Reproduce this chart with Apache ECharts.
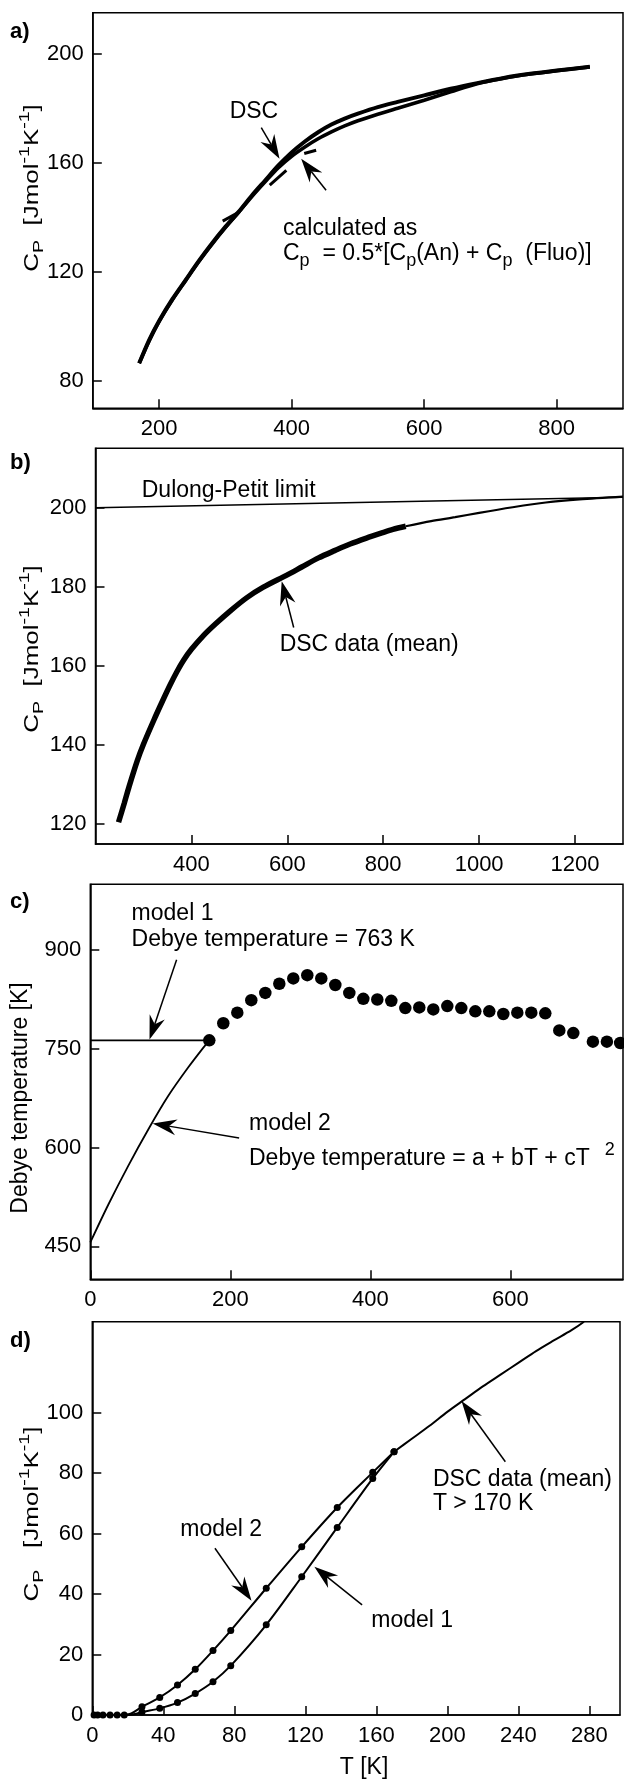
<!DOCTYPE html>
<html><head><meta charset="utf-8">
<script src="https://cdn.jsdelivr.net/npm/echarts@6/dist/echarts.min.js"></script>
<style>html,body{margin:0;padding:0;background:#fff}#c{width:624px;height:1781px}</style>
</head><body><div id="c"></div>
<script>
// ---------------- DATA ----------------
// panel a) Cp [J/mol/K] vs T [K]
const aDscT   = [170,185,200,220,240,260,280,300,320,340,360,380,400,420,440,460,480,500,530,560,600,640,680,720,760,800,850];
const aDscCp  = [86.5,95,102,110,117,124,130.5,136.5,142,148,153.5,159,163.8,167.8,171.2,174,176.2,178,180.4,182.3,184.7,187.1,189.2,191.1,192.6,193.8,195.2];
const aCalcT  = [170,185,200,220,240,260,280,300,320,340,360,380,400,420,440,460,480,500,530,560,600,640,680,720,760,800,850];
const aCalcCp = [86.5,94.7,101.8,109.7,116.8,123.8,130.2,136.2,141.8,147.6,153,158.2,162.4,165.8,168.8,171.3,173.5,175.4,177.8,180,182.9,186,189,191,192.5,193.7,195.1];
const aSeg1T = [296,318], aSeg1Cp = [138.6,141.6];
const aSeg2T = [367,392], aSeg2Cp = [151.8,157.2];
const aSeg3T = [419,437], aSeg3Cp = [163.4,164.6];
const aXTicks = [200,400,600,800];
const aYTicks = [80,120,160,200];

// panel b)
const bDscT  = [248,260,270,287,300,322,340,356,370,384,400,426,450,480,515,550,598,630,665,700,731,765,797,820,847];
const bDscCp = [120.5,125.3,129.5,136,140.2,146.4,151.2,155.3,158.6,161.5,164.2,167.8,170.6,173.8,177.2,179.9,182.9,185,187.3,189.2,190.8,192.3,193.6,194.5,195.3];
const bFitT  = [847,900,950,1000,1070,1139,1209,1300];
const bFitCp = [195.3,196.6,197.6,198.7,200.1,201.3,202.1,202.8];
const bDpT   = [200,800,1300];
const bDpCp  = [200.0,201.4,202.6];
const bXTicks = [400,600,800,1000,1200];
const bYTicks = [120,140,160,180,200];

// panel c) Debye temperature [K]
const cDotsT = [170,190,210,230,250,270,290,310,330,350,370,390,410,430,450,470,490,510,530,550,570,590,610,630,650,670,690,718,738,757];
const cDotsD = [763,789,805,824,835,849,857,862,857,847,835,826,825,823,812,813,810,815,812,807,807,803,805,805,804,778,774,761,761,759];
const cModel1T = [0,170], cModel1D = [763,763];
const cModel2T = [0,26,54,83,111,140,166,170];
const cModel2D = [456,514,572,628,678,722,758,763];
const cXTicks = [0,200,400,600];
const cYTicks = [450,600,750,900];

// panel d) low temperature Cp
const dDscT  = [170,180,190,200,210,220,230,240,250,260,270,277];
const dDscCp = [87,91.3,95.6,100.2,104.4,108.6,112.5,116.4,120.3,123.8,127.2,130];
const dModel2T  = [18,22,28,38,48,58,68,78,98,118,138,158,170];
const dModel2Cp = [0,0.5,2.7,5.8,9.9,15.1,21.3,27.9,41.9,55.6,68.6,80.2,87];
const dModel1T  = [20,24,28,38,48,58,68,78,98,118,138,158,170];
const dModel1Cp = [0,0.3,1.0,2.2,4.1,7.1,11,16.3,29.8,45.7,62,78.2,87];
const dLowT  = [1,3,6,10,14,18];
const dLowCp = [0,0,0,0,0,0];
const dXTicks = [0,40,80,120,160,200,240,280];
const dYTicks = [0,20,40,60,80,100];

// ---------------- CHART ----------------
const FONT = '"Liberation Sans", Arial, Helvetica, sans-serif';
const zip = (xs, ys) => xs.map((x, i) => [x, ys[i]]);
const chart = echarts.init(document.getElementById('c'), null, {renderer: 'canvas'});

const grids = [
  {left: 92.8, top: 12.7,   width: 530.2, height: 395.6},
  {left: 95.5, top: 448.3,  width: 527.5, height: 395.7},
  {left: 90.3, top: 884.3,  width: 532.7, height: 395},
  {left: 92.3, top: 1321.7, width: 527.7, height: 393.3}
].map(g => Object.assign({show: true, borderColor: '#000', borderWidth: 1.5, backgroundColor: 'transparent', containLabel: false}, g));

function axisBase(i, min, max, ticks, margin) {
  return {type: 'value', gridIndex: i, min, max,
    axisLine: {show: true, onZero: false, lineStyle: {color: '#000', width: 1.5}},
    axisTick: {show: true, inside: true, length: 9, customValues: ticks, lineStyle: {color: '#000', width: 1.5}},
    axisLabel: {show: true, color: '#000', fontSize: 22, fontFamily: FONT, margin, customValues: ticks,
      formatter: v => String(v)},
    splitLine: {show: false}};
}
const xAx = (i, min, max, ticks) => axisBase(i, min, max, ticks, 10);
const yAx = (i, min, max, ticks) => axisBase(i, min, max, ticks, 9);

function line(i, data, width, extra) {
  return Object.assign({type: 'line', xAxisIndex: i, yAxisIndex: i, data, showSymbol: false, symbol: 'none',
    lineStyle: {color: '#000', width, opacity: 1}, itemStyle: {color: '#000', opacity: 1}, smooth: 0.3, animation: false, z: 3}, extra || {});
}
function dots(i, data, size) {
  return {type: 'scatter', xAxisIndex: i, yAxisIndex: i, data, symbol: 'circle', symbolSize: size,
    itemStyle: {color: '#000', opacity: 1}, emphasis: {disabled: true}, animation: false, z: 4, clip: false};
}

const option = {
  animation: false,
  backgroundColor: '#fff',
  grid: grids,
  xAxis: [xAx(0, 100, 900, aXTicks), xAx(1, 200, 1300, bXTicks), xAx(2, 0, 761, cXTicks), xAx(3, 0, 297.3, dXTicks)],
  yAxis: [yAx(0, 70, 215, aYTicks), yAx(1, 115, 215, bYTicks), yAx(2, 400, 1000, cYTicks), yAx(3, 0, 130, dYTicks)],
  series: [
    line(0, zip(aDscT, aDscCp), 4),
    line(0, zip(aCalcT, aCalcCp), 3.6),
    line(0, zip(aSeg1T, aSeg1Cp), 3, {smooth: false}),
    line(0, zip(aSeg2T, aSeg2Cp), 3, {smooth: false}),
    line(0, zip(aSeg3T, aSeg3Cp), 3, {smooth: false}),

    line(1, zip(bDpT, bDpCp), 1.5, {smooth: false}),
    line(1, zip(bFitT, bFitCp), 2.2),
    line(1, zip(bDscT, bDscCp), 5.5),

    line(2, zip(cModel1T, cModel1D), 1.6, {smooth: false}),
    line(2, zip(cModel2T, cModel2D), 1.8),
    dots(2, zip(cDotsT, cDotsD), 12.5),

    line(3, zip(dDscT, dDscCp), 2),
    line(3, zip(dModel2T, dModel2Cp), 2, {showSymbol: true, symbolSize: 7,
      symbol: v => (v[0] >= 28 ? 'circle' : 'none')}),
    line(3, zip(dModel1T, dModel1Cp), 2, {showSymbol: true, symbolSize: 7,
      symbol: v => (v[0] >= 28 ? 'circle' : 'none')}),
    dots(3, zip(dLowT, dLowCp), 7)
  ]
};
chart.setOption(option);

// ---------------- ANNOTATIONS ----------------
const mctx = document.createElement('canvas').getContext('2d');
function measure(t, fs, bold) { mctx.font = (bold ? 'bold ' : '') + fs + 'px ' + FONT; return mctx.measureText(t).width; }
function run(px, py, pieces, o) {
  o = o || {};
  const fs = o.fs || 23, small = Math.round(fs * (o.smallRatio || 0.75));
  let x = 0; const kids = [];
  for (const p of pieces) {
    const t = p[0], kind = p[1];
    const f = kind ? small : fs;
    const dy = kind === 'sub' ? fs * 0.32 : kind === 'sup' ? -fs * 0.38 : 0;
    kids.push({type: 'text', x, y: dy, z: 100,
      style: {text: t, font: (o.bold ? 'bold ' : '') + f + 'px ' + FONT, fill: '#000',
        align: 'left', verticalAlign: 'middle', textAlign: 'left', textVerticalAlign: 'middle'}});
    x += measure(t, f, o.bold);
  }
  if (o.center) kids.forEach(k => { k.x -= x / 2; });
  return {type: 'group', x: px, y: py, rotation: o.rot || 0, scaleX: o.sx || 1, z: 100, children: kids};
}
function arrow(tail, head) {
  const dx = head[0] - tail[0], dy = head[1] - tail[1], L = Math.hypot(dx, dy);
  const ux = dx / L, uy = dy / L, nx = -uy, ny = ux;
  const len = 24, w = 16;
  const bx = head[0] - ux * len, by = head[1] - uy * len;
  const notch = [head[0] - ux * len * 0.68, head[1] - uy * len * 0.68];
  return [
    {type: 'line', z: 100, shape: {x1: tail[0], y1: tail[1], x2: notch[0], y2: notch[1]}, style: {stroke: '#000', lineWidth: 1.5}},
    {type: 'polygon', z: 100, shape: {points: [head, [bx + nx * w / 2, by + ny * w / 2], notch, [bx - nx * w / 2, by - ny * w / 2]]}, style: {fill: '#000'}}
  ];
}
const px = (g, v) => chart.convertToPixel({gridIndex: g}, v);

// annotation anchors in data units: [grid, [x, y], pieces]
const texts = [
  [0, [306.5, 178.7], [['DSC']]],
  [0, [387, 136], [['calculated as']]],
  [0, [387, 126.8], [['C'], ['p', 'sub'], ['  = 0.5*[C'], ['p', 'sub'], ['(An) + C'], ['p', 'sub'], ['  (Fluo)]']]],
  [1, [296.4, 204.2], [['Dulong-Petit limit']]],
  [1, [584, 165.3], [['DSC data (mean)']]],
  [2, [59, 955.2], [['model 1']]],
  [2, [59, 915.8], [['Debye temperature = 763 K']]],
  [2, [226.7, 636.8], [['model 2']]],
  [2, [226.7, 583.5], [['Debye temperature = a + bT + cT'], ['   2', 'sup']]],
  [3, [49.6, 61.4], [['model 2']]],
  [3, [157.2, 31.2], [['model 1']]],
  [3, [191.9, 77.7], [['DSC data (mean)']]],
  [3, [191.9, 70], [['T > 170 K']]]
];
const arrows = [
  [0, [354.2, 172.9], [381.7, 161.5]],
  [0, [452, 149.9], [414.4, 161.5]],
  [1, [613.3, 169.7], [588.3, 181.4]],
  [2, [123.3, 885.4], [84.6, 764.1]],
  [2, [212.6, 614.6], [89.1, 636.8]],
  [3, [69.1, 55.1], [89.7, 37.8]],
  [3, [152, 36.4], [125.1, 49]],
  [3, [232.7, 83.7], [208, 103.8]]
];

const graphic = [];
texts.forEach(([g, at, pieces]) => { const p = px(g, at); graphic.push(run(p[0], p[1], pieces, {fs: 23, smallRatio: 0.8})); });
arrows.forEach(([g, t, h]) => { graphic.push(...arrow(px(g, t), px(g, h))); });

// panel letters
[['a)', 31.7], ['b)', 463], ['c)', 901.7], ['d)', 1341]].forEach(([t, y]) => graphic.push(run(10, y, [[t]], {fs: 22, bold: true})));

// axis titles
const cpTitle = [['C'], ['P', 'sub'], ['  [Jmol'], ['-1', 'sup'], ['K'], ['-1', 'sup'], [']']];
graphic.push(run(32, 188, cpTitle, {fs: 20, center: true, rot: Math.PI / 2, sx: 1.3}));
graphic.push(run(32, 649, cpTitle, {fs: 20, center: true, rot: Math.PI / 2, sx: 1.3}));
graphic.push(run(21, 1098, [['Debye temperature [K]']], {fs: 23, center: true, rot: Math.PI / 2}));
graphic.push(run(32, 1514, [['C'], ['P', 'sub'], ['   [Jmol'], ['-1', 'sup'], ['K'], ['-1', 'sup'], [']']], {fs: 20, center: true, rot: Math.PI / 2, sx: 1.3}));
graphic.push(run(364, 1768, [['T [K]']], {fs: 23, center: true}));

chart.setOption({graphic});
</script></body></html>
